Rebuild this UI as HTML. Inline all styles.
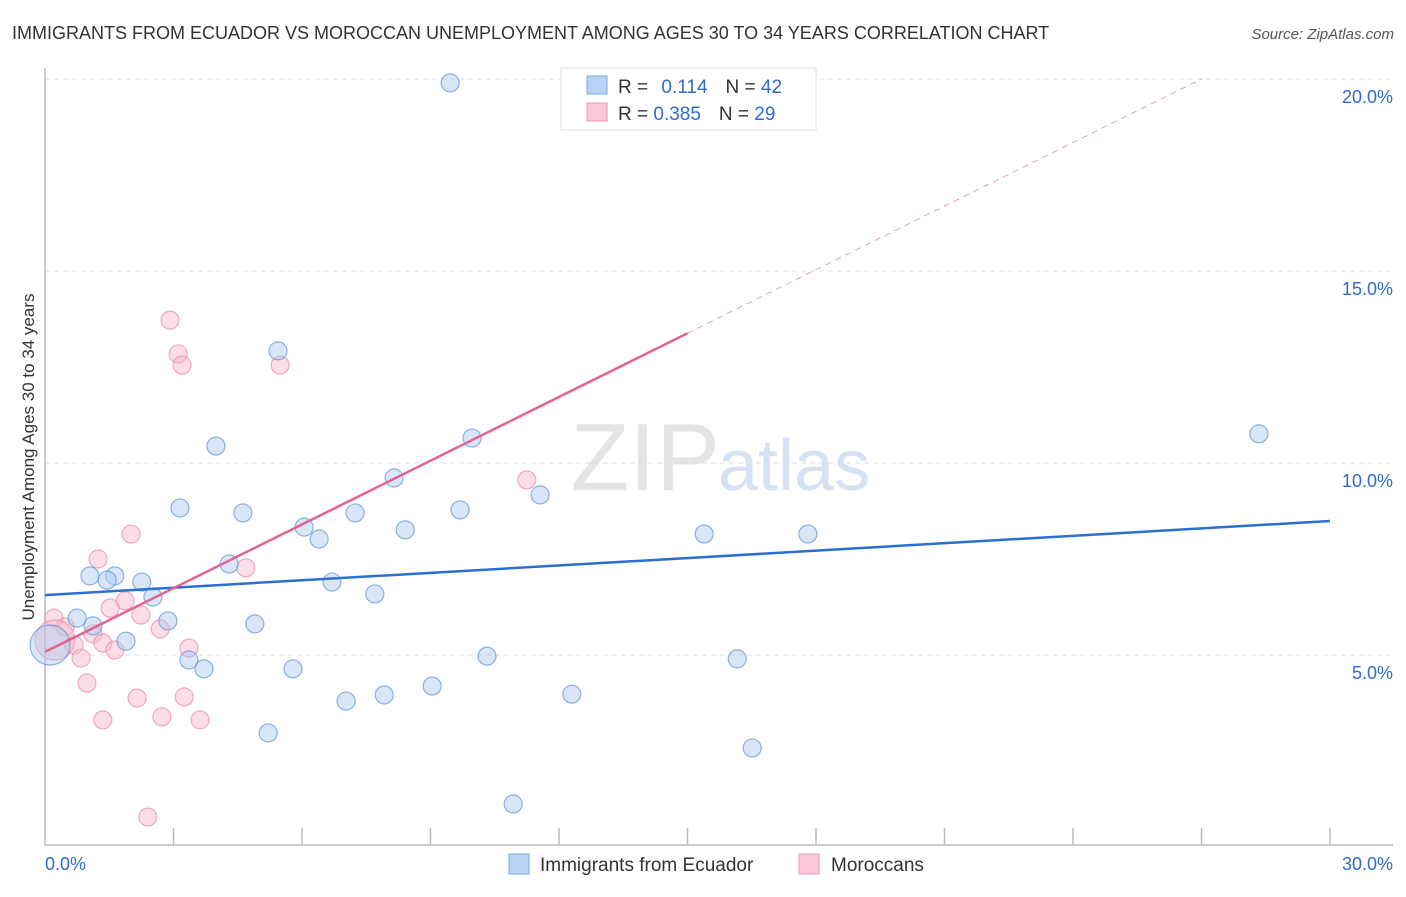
<!DOCTYPE html>
<html><head><meta charset="utf-8"><style>
body{margin:0;background:#fff;font-family:"Liberation Sans",sans-serif;}
svg text{font-family:"Liberation Sans",sans-serif;}
</style></head><body>
<svg id="chart" width="1406" height="892" xmlns="http://www.w3.org/2000/svg">
<text x="12" y="39" font-size="18" fill="#333">IMMIGRANTS FROM ECUADOR VS MOROCCAN UNEMPLOYMENT AMONG AGES 30 TO 34 YEARS CORRELATION CHART</text>
<text x="1394" y="39" font-size="15" fill="#555" text-anchor="end" font-style="italic">Source: ZipAtlas.com</text>
<text x="720" y="490" font-size="96" fill="#e4e4e4" text-anchor="end" font-family="Liberation Serif">ZIP</text>
<text x="718" y="490" font-size="72" fill="#d6e2f3">atlas</text>
<g id="grid"></g>
<g id="axes"></g>
<g id="marks"></g>
<text transform="translate(34,457) rotate(-90)" font-size="17" fill="#333" text-anchor="middle">Unemployment Among Ages 30 to 34 years</text>
<g>
<rect x="561" y="68" width="255" height="62" fill="#fff" stroke="#ddd"/>
<rect x="587" y="76" width="20" height="18" fill="#b9d3f5" stroke="#7aa7e0"/>
<rect x="587" y="103" width="20" height="18" fill="#fbc8d8" stroke="#ee9ab5"/>
<text x="618" y="93" font-size="19" fill="#333">R = <tspan fill="#2f6cc9" dx="8">0.114</tspan><tspan fill="#333" dx="18">N = </tspan><tspan fill="#2f6cc9">42</tspan></text>
<text x="618" y="120" font-size="19" fill="#333">R = <tspan fill="#2f6cc9">0.385</tspan><tspan fill="#333" dx="18">N = </tspan><tspan fill="#2f6cc9">29</tspan></text>
</g>
<g>
<rect x="509" y="854" width="20" height="20" fill="#b9d3f5" stroke="#7aa7e0"/>
<text x="540" y="871" font-size="19" fill="#333">Immigrants from Ecuador</text>
<rect x="799" y="854" width="20" height="20" fill="#fbc8d8" stroke="#ee9ab5"/>
<text x="831" y="871" font-size="19" fill="#333">Moroccans</text>
</g>
</svg>
<script>
const xTicks=[0,3,6,9,12,15,18,21,24,27,30];
const yTicks=[5,10,15,20];
const yTickLabels=["5.0%","10.0%","15.0%","20.0%"];
const xEdgeLabels=["0.0%","30.0%"];
const ecuadorX=[9.46,5.44,3.99,9.97,28.34,3.15,4.62,8.15,7.24,9.69,11.56,6.05,6.40,8.41,15.39,17.81,4.30,1.05,1.63,1.45,2.26,6.70,2.52,7.70,0.75,2.87,4.90,1.12,1.89,3.36,3.71,5.79,10.32,16.16,9.04,7.92,7.03,12.30,5.21,16.51,10.93,0.12];
const ecuadorY=[19.9,12.92,10.44,10.65,10.76,8.83,8.70,9.61,8.70,8.78,9.17,8.33,8.02,8.26,8.15,8.15,7.37,7.06,7.06,6.95,6.90,6.90,6.51,6.59,5.96,5.89,5.81,5.76,5.36,4.87,4.64,4.64,4.97,4.90,4.19,3.96,3.80,3.98,2.97,2.58,1.12,5.26];
const moroccoX=[2.92,3.11,3.20,5.49,11.25,2.01,1.24,4.69,1.87,1.52,2.24,2.69,1.12,0.47,0.21,0.68,1.35,3.36,1.63,0.84,0.98,2.15,3.25,1.35,2.73,3.62,2.40,0.23];
const moroccoY=[13.72,12.84,12.55,12.55,9.56,8.15,7.50,7.27,6.41,6.22,6.04,5.68,5.55,5.73,5.96,5.26,5.31,5.18,5.13,4.92,4.27,3.88,3.91,3.31,3.39,3.31,0.78,5.39];
const ecuadorTrend=[[0,6.56],[30,8.49]];
const moroccoTrendSolid=[[0,5.08],[15,13.38]];
const moroccoTrendDash=[[15,13.38],[27,20.0]];
const NS="http://www.w3.org/2000/svg";
const X=v=>45+v*(1285/30);
const Y=v=>847-v*38.4;
function mk(t,a,p){const e=document.createElementNS(NS,t);for(const k in a)e.setAttribute(k,a[k]);p.appendChild(e);return e;}
const grid=document.getElementById('grid'),axes=document.getElementById('axes'),marks=document.getElementById('marks');
yTicks.forEach((v,i)=>{
 const l=mk('line',{x1:45,x2:1393,y1:Y(v),y2:Y(v),stroke:'#ddd','stroke-dasharray':'5,4'},grid);
 
 
 const t=mk('text',{x:1393,y:Y(v)+24,'font-size':18,fill:'#2f6cc9','text-anchor':'end'},axes);
 t.textContent=yTickLabels[i];
 
 
});
const ax=mk('path',{d:`M45,68 V845 H1393`,fill:'none',stroke:'#bbb','stroke-width':1.5},axes);


xTicks.slice(1).forEach(v=>{
 const l=mk('line',{x1:X(v),x2:X(v),y1:828,y2:845,stroke:'#bbb','stroke-width':1.5},axes);
 
 
});
[[0,'start',45],[30,'end',1393]].forEach((d,i)=>{
 const t=mk('text',{x:d[2],y:870,'font-size':18,fill:'#2f6cc9','text-anchor':d[1]},axes);
 t.textContent=xEdgeLabels[i];
 
 
});
function dots(xs,ys,fill,stroke,name){
 xs.forEach((x,i)=>{
  const big=(i===xs.length-1);
  const c=mk('circle',{cx:X(x),cy:Y(ys[i]),r:big?20:9,fill:fill,'fill-opacity':0.45,stroke:stroke,'stroke-opacity':0.7,'stroke-width':1.2},marks);
  
  
 });
}
dots(moroccoX,moroccoY,'#f7b3c8','#e98aa9','morocco-point');
dots(ecuadorX,ecuadorY,'#a9c8f0','#5f93d8','ecuador-point');
function line(p,col,w,dash,name){
 const l=mk('line',{x1:X(p[0][0]),y1:Y(p[0][1]),x2:X(p[1][0]),y2:Y(p[1][1]),stroke:col,'stroke-width':w},marks);
 if(dash)l.setAttribute('stroke-dasharray',dash);
 
 
}
line(ecuadorTrend,'#2a6fd1',2.5,null,'ecuador-trend-line');
line(moroccoTrendSolid,'#e4628f',2.5,null,'morocco-trend-line');
line(moroccoTrendDash,'#e8a0b8',1,'6,5','morocco-trend-extension');
</script>
</body></html>
